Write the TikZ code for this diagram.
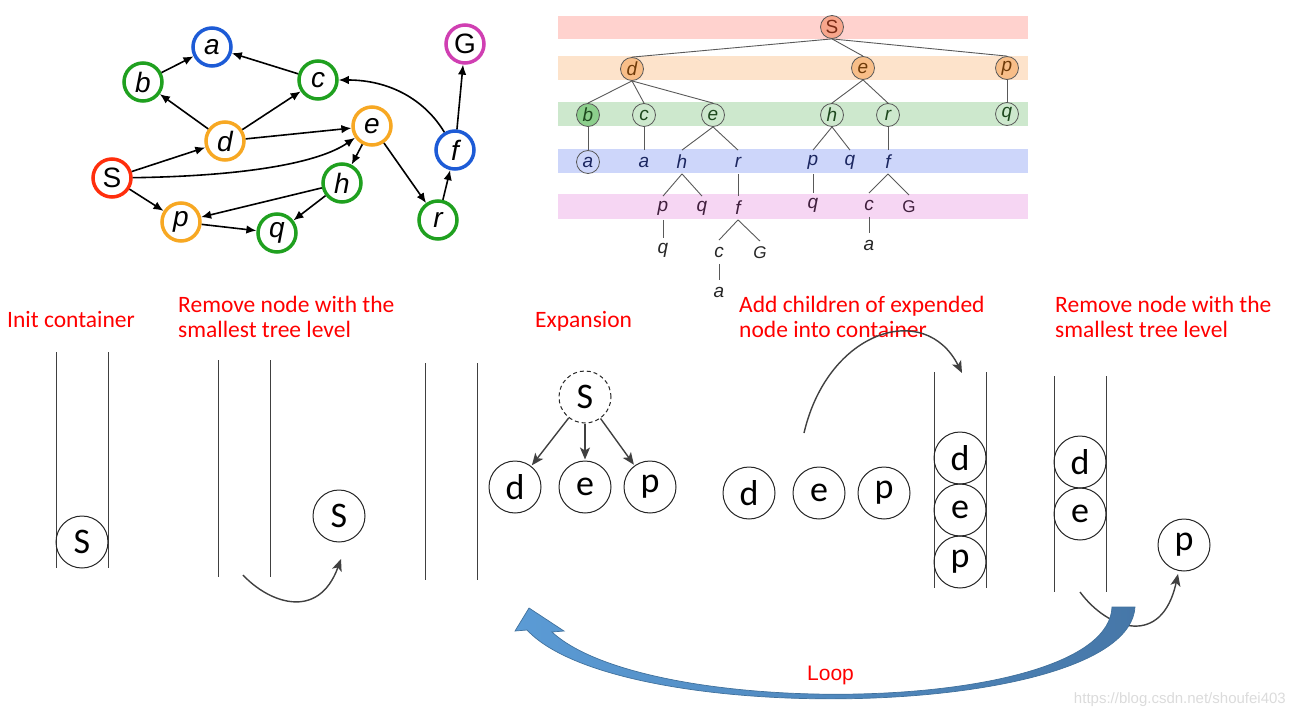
\documentclass[tikz,border=0pt]{standalone}
\usepackage{fontspec}
\setmainfont{Carlito}
\newfontfamily\arialf{Liberation Sans}
\usetikzlibrary{arrows.meta}
\definecolor{gGreen}{HTML}{1FA01F}
\definecolor{gOrange}{HTML}{F7A823}
\definecolor{gBlue}{HTML}{1D5BD6}
\definecolor{gRed}{HTML}{FF2E0C}
\definecolor{gMag}{HTML}{D03FB2}
\definecolor{bandR}{HTML}{FFD2CE}
\definecolor{bandO}{HTML}{FDE3CB}
\definecolor{bandG}{HTML}{CDE8CD}
\definecolor{bandB}{HTML}{CDD6FA}
\definecolor{bandP}{HTML}{F6D6F3}
\definecolor{fillS}{HTML}{F8A68C}
\definecolor{fillO}{HTML}{F8BE88}
\definecolor{fillG}{HTML}{8CCF8C}
\definecolor{txS}{HTML}{7A2A14}
\definecolor{txO}{HTML}{6E3A08}
\definecolor{txG}{HTML}{1D481D}
\definecolor{txB}{HTML}{1B2660}
\definecolor{txP}{HTML}{3F1E3C}
\definecolor{txK}{HTML}{262626}
\definecolor{arrG}{HTML}{404040}
\definecolor{loopL}{HTML}{5B9BD5}
\definecolor{loopD}{HTML}{4677A8}
\definecolor{loopE}{HTML}{41719C}
\begin{document}
\begin{tikzpicture}[x=1pt,y=-1pt,
 gnode/.style={circle,draw=#1,line width=3.5pt,minimum size=38pt,inner sep=0pt,font=\arialf\fontsize{28}{28}\selectfont\itshape},
 gup/.style={font=\arialf\fontsize{28}{28}\selectfont},
 gedge/.style={-{Latex[length=10pt,width=8.5pt]},line width=1.6pt},
 tnode/.style={circle,minimum size=23pt,inner sep=0pt,line width=0.8pt,font=\arialf\fontsize{19}{19}\selectfont\itshape},
 tring/.style={tnode,draw=black!65},
 tedge/.style={draw=black!65,line width=0.9pt},
 bnode/.style={circle,draw=black!85,line width=1pt,minimum size=52pt,inner sep=0pt,font=\fontsize{36}{36}\selectfont},
 wall/.style={draw=black!75,line width=1pt},
 lab/.style={text=red,font=\fontsize{23.5}{25}\selectfont,align=left,anchor=base west,inner sep=0pt},
 move/.style={draw=arrG,line width=1.4pt,-{Stealth[length=12pt,width=10pt,inset=3pt]}},
]
\useasboundingbox (0,0) rectangle (1291,717);
% ---------- graph ----------
\node[gnode=gBlue] (ga) at (212,47) {a};
\node[gnode=gGreen] (gb) at (143,82) {b};
\node[gnode=gGreen] (gc) at (318,80) {c};
\node[gnode=gMag,gup] (gG) at (465,44) {G};
\node[gnode=gOrange] (gd) at (225,141) {d};
\node[gnode=gOrange] (ge) at (372,126) {e};
\node[gnode=gBlue] (gf) at (455,150) {f};
\node[gnode=gRed,gup] (gS) at (112,178) {S};
\node[gnode=gGreen] (gh) at (342,183) {h};
\node[gnode=gOrange] (gp) at (181,222) {p};
\node[gnode=gGreen] (gq) at (277,233) {q};
\node[gnode=gGreen] (gr) at (438,220) {r};
\draw[gedge] (gb) -- (ga);
\draw[gedge] (gc) -- (ga);
\draw[gedge] (gd) -- (gb);
\draw[gedge] (gd) -- (gc);
\draw[gedge] (gd) -- (ge);
\draw[gedge] (gS) -- (gd);
\draw[gedge] (gS) .. controls (250,176) and (320,162) .. (ge);
\draw[gedge] (gS) -- (gp);
\draw[gedge] (ge) -- (gh);
\draw[gedge] (ge) -- (gr);
\draw[gedge] (gh) -- (gp);
\draw[gedge] (gh) -- (gq);
\draw[gedge] (gp) -- (gq);
\draw[gedge] (gr) -- (gf);
\draw[gedge] (gf) .. controls (425,100) and (390,80) .. (gc);
\draw[gedge] (gf) -- (gG);
% ---------- tree ----------
\fill[bandR] (558,16) rectangle (1028,39);
\fill[bandO] (558,56) rectangle (1028,80);
\fill[bandG] (558,102) rectangle (1028,126);
\fill[bandB] (558,149) rectangle (1028,173);
\fill[bandP] (558,194) rectangle (1028,219);
\node[tring,fill=fillS,text=txS,font=\arialf\fontsize{19}{19}\selectfont] (t0) at (832,27) {S};
\node[tring,fill=fillO,text=txO] (t1d) at (632,69) {d};
\node[tring,fill=fillO,text=txO] (t1e) at (863,68) {e};
\node[tring,fill=fillO,text=txO] (t1p) at (1007,68) {p};
\node[tring,fill=fillG,text=txG] (t2b) at (588,115) {b};
\node[tring,text=txG] (t2c) at (644,115) {c};
\node[tring,text=txG] (t2e) at (713,115) {e};
\node[tring,text=txG] (t2h) at (832,115) {h};
\node[tring,text=txG] (t2r) at (888,115) {r};
\node[tring,text=txG] (t2q) at (1007,114) {q};
\node[tring,text=txB] (t3a) at (588,162) {a};
\node[tnode,text=txB] (t3a2) at (644,162) {a};
\node[tnode,text=txB] (t3h) at (682,162) {h};
\node[tnode,text=txB] (t3r) at (738,162) {r};
\node[tnode,text=txB] (t3p) at (813,162) {p};
\node[tnode,text=txB] (t3q) at (850,162) {q};
\node[tnode,text=txB] (t3f) at (888,162) {f};
\node[tnode,text=txP] (t4p) at (663,208) {p};
\node[tnode,text=txP] (t4q) at (702,208) {q};
\node[tnode,text=txP] (t4f) at (738,208) {f};
\node[tnode,text=txP] (t4q2) at (813,205) {q};
\node[tnode,text=txP] (t4c) at (869,205) {c};
\node[tnode,text=txP,font=\arialf\fontsize{17}{17}\selectfont] (t4G) at (909,207) {G};
\node[tnode,text=txK] (t5q) at (663,250) {q};
\node[tnode,text=txK] (t5c) at (719,252) {c};
\node[tnode,text=txK,font=\arialf\fontsize{17}{17}\selectfont\itshape] (t5G) at (760,253) {G};
\node[tnode,text=txK] (t5a) at (869,245) {a};
\node[tnode,text=txK] (t6a) at (719,292) {a};
\foreach \p/\c in {t0/t1d,t0/t1e,t0/t1p,t1d/t2b,t1d/t2c,t1d/t2e,t1e/t2h,t1e/t2r,t1p/t2q,
  t2b/t3a,t2c/t3a2,t2e/t3h,t2e/t3r,t2h/t3p,t2h/t3q,t2r/t3f,
  t3h/t4p,t3h/t4q,t3r/t4f,t3p/t4q2,t3f/t4c,t3f/t4G,t4p/t5q,t4f/t5c,t4f/t5G,t4c/t5a,t5c/t6a}
  \draw[tedge] (\p.south) -- (\c.north);
% ---------- labels ----------
\node[lab] (l1) at (7,327) {Init container};
\node[lab] (l2) at (178,337) {Remove node with the\\smallest tree level};
\node[lab] (l3) at (535,327) {Expansion};
\node[lab] (l4) at (739,337) {Add children of expended\\node into container};
\node[lab] (l5) at (1055,337) {Remove node with the\\smallest tree level};
% ---------- containers ----------
\draw[wall] (56,352) -- (56,568);
\draw[wall] (108,352) -- (108,568);
\node[bnode] (s1) at (82,542) {S};
\draw[wall] (218,360) -- (218,577);
\draw[wall] (270,360) -- (270,577);
\node[bnode] (s2) at (339,516) {S};
\coordinate (m1a) at (243,575);
\coordinate (m1b) at (341,559);
\draw[move] (m1a) .. controls (268,602) and (318,622) .. (m1b);
\draw[wall] (425,363) -- (425,580);
\draw[wall] (477,363) -- (477,580);
\node[bnode,dash pattern=on 4pt off 3pt] (sx) at (585,397) {S};
\node[bnode] (xd) at (515,487) {d};
\node[bnode] (xe) at (585,487) {e};
\node[bnode] (xp) at (650,487) {p};
\draw[move,shorten >=1pt] (sx) -- (xd);
\draw[move,shorten >=1pt] (sx) -- (xe);
\draw[move,shorten >=1pt] (sx) -- (xp);
\node[bnode] (yd) at (749,493) {d};
\node[bnode] (ye) at (819,493) {e};
\node[bnode] (yp) at (884,493) {p};
\coordinate (m2a) at (804,433);
\coordinate (m2b) at (962,373);
\draw[move] (m2a) .. controls (828,330) and (925,300) .. (m2b);
\draw[wall] (934,372) -- (934,588);
\draw[wall] (986,372) -- (986,588);
\node[bnode] (zd) at (960,458) {d};
\node[bnode] (ze) at (960,510) {e};
\node[bnode] (zp) at (960,562) {p};
\draw[wall] (1054,376) -- (1054,592);
\draw[wall] (1106,376) -- (1106,592);
\node[bnode] (wd) at (1080,462) {d};
\node[bnode] (we) at (1080,514) {e};
\node[bnode] (wp) at (1184,545) {p};
\coordinate (m3a) at (1080,592);
\coordinate (m3b) at (1178,574);
\draw[move] (m3a) .. controls (1108,630) and (1162,648) .. (m3b);
% ---------- loop arrow ----------
\path[draw=loopE,line width=0.7pt,left color=loopL,right color=loopD]
  (515,631) -- (529,608) -- (564,631) -- (552,632)
  .. controls (650,722) and (1108,715) .. (1112,607) -- (1135,607)
  .. controls (1128,720) and (620,730) .. (527,630) -- cycle;
\node[font=\arialf\fontsize{21}{21}\selectfont,text=red,anchor=base west,inner sep=0pt] (loop) at (807,680) {Loop};
\node[font=\arialf\fontsize{15}{15}\selectfont,text=black!14,anchor=base east,inner sep=0pt] (wm) at (1286,703) {https://blog.csdn.net/shoufei403};
\end{tikzpicture}
\end{document}
